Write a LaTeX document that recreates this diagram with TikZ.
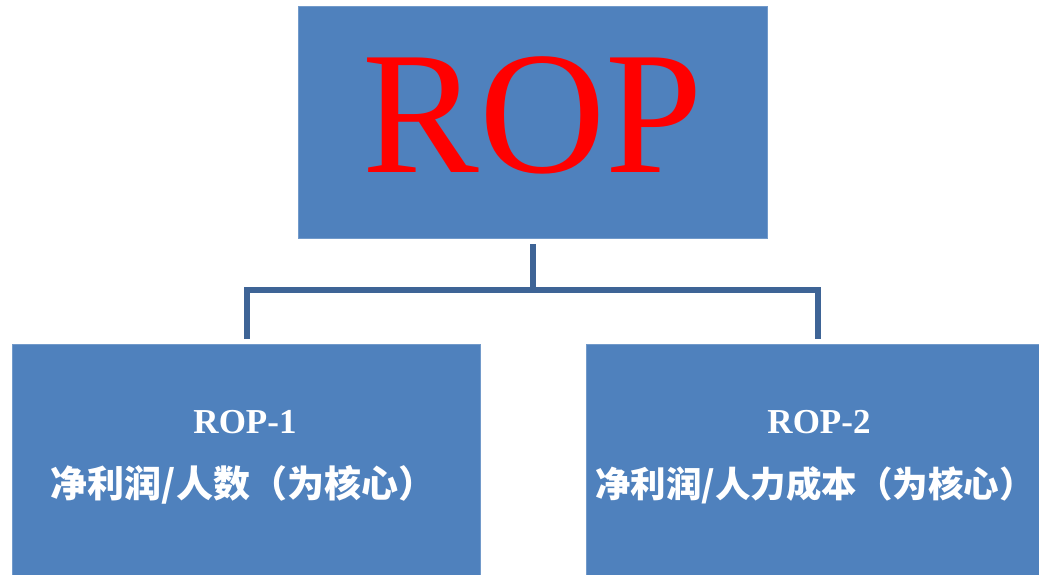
\documentclass[tikz,border=0pt]{standalone}
\usepackage{fontspec}
\setmainfont{Liberation Serif}
\newfontfamily\cjk{Noto Sans CJK SC}
\definecolor{boxblue}{HTML}{4F81BD}
\definecolor{linkblue}{HTML}{3E6496}
\begin{document}
\begin{tikzpicture}[x=1pt,y=-1pt,
  box/.style={fill=boxblue,draw=boxblue!80!white,line width=0.8pt,inner sep=0pt,anchor=north west},
  conn/.style={draw=linkblue,line width=6pt,line join=miter},
  subtitle/.style={text=white,font=\bfseries\fontsize{35}{40}\selectfont},
  cjklabel/.style={text=white,font=\cjk\bfseries\fontsize{37}{42}\selectfont,inner sep=0pt}]
\useasboundingbox (0,0) rectangle (1039,574);
% boxes
\node[box,minimum width=469pt,minimum height=232pt] (top) at (298,6) {};
\node[box,minimum width=468pt,minimum height=240pt] (left) at (12,344) {};
\node[box,minimum width=468pt,minimum height=240pt] (right) at (586,344) {};
% texts
\node[text=red,font=\fontsize{175}{178}\selectfont,anchor=base,inner sep=0pt] (rop) at (533,172) {ROP};
\node[subtitle,anchor=base,inner sep=0pt] (rop1) at (245,433) {ROP-1};
\node[cjklabel] (c1) at (243,485) {净利润/人数（为核心）};
\node[subtitle,anchor=base,inner sep=0pt] (rop2) at (819,433) {ROP-2};
\node[cjklabel,font=\cjk\bfseries\fontsize{35.5}{42}\selectfont] (c2) at (815,485) {净利润/人力成本（为核心）};
% connectors
\coordinate (j) at (533,290);
\coordinate (jl) at (247,290);
\coordinate (jr) at (818,290);
\coordinate (dl) at (247,339);
\coordinate (dr) at (818,339);
\coordinate (ts) at (533,244);
\draw[conn] (ts) -- (j);
\draw[conn] (dl) -- (jl) -- (jr) -- (dr);
\end{tikzpicture}
\end{document}
